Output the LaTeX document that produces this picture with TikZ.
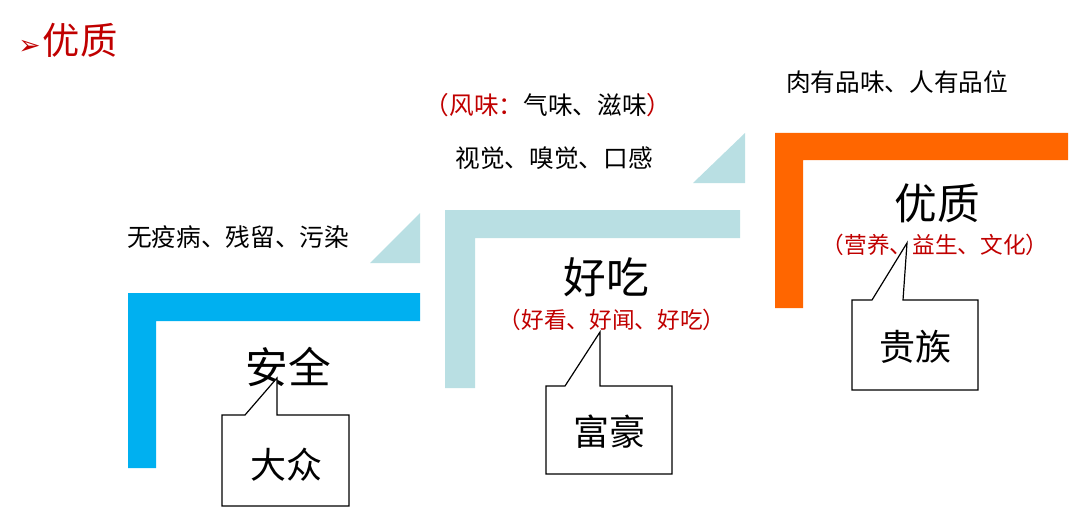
\documentclass[tikz,border=0pt]{standalone}
\usepackage{fontspec}
\setmainfont{Noto Sans CJK SC}
\newfontfamily\dvs{DejaVu Sans}
\definecolor{cblue}{HTML}{00B0F0}
\definecolor{clight}{HTML}{B9DFE3}
\definecolor{corange}{HTML}{FF6600}
\definecolor{cred}{HTML}{C00000}
\begin{document}
\begin{tikzpicture}[x=0.75pt,y=-0.75pt,
  txt/.style={inner sep=0pt,font=\fontsize{18.5}{20}\selectfont},
  big/.style={inner sep=0pt,font=\fontsize{32}{36}\selectfont},
  cal/.style={inner sep=0pt,font=\fontsize{27}{30}\selectfont},
  sub/.style={inner sep=0pt,text=cred,font=\fontsize{17}{20}\selectfont},
  callout/.style={draw=black,line width=0.9pt,fill=white}]
\useasboundingbox (0,0) rectangle (1080,524);
% L shapes
\fill[cblue] (128,293) -- (420,293) -- (420,321) -- (156,321) -- (156,468) -- (128,468) -- cycle;
\fill[clight] (445,210) -- (740,210) -- (740,238) -- (475,238) -- (475,388) -- (445,388) -- cycle;
\fill[corange] (775,133) -- (1068,133) -- (1068,160) -- (803,160) -- (803,308) -- (775,308) -- cycle;
\fill[clight] (370,263) -- (420,213) -- (420,263) -- cycle;
\fill[clight] (693,183) -- (745,133) -- (745,183) -- cycle;
% title
\node[anchor=west,inner sep=0pt,text=cred] (title) at (18,40) {{\dvs\fontsize{20}{24}\selectfont ➢}\,\fontsize{28}{32}\selectfont 优质};
% texts
\node[txt] (t1) at (897,82) {肉有品味、人有品位};
\node[txt] (t2) at (548,105) {\textcolor{cred}{（风味：}气味、滋味\textcolor{cred}{）}};
\node[txt] (t3) at (554,158) {视觉、嗅觉、口感};
\node[txt] (t4) at (238,237) {无疫病、残留、污染};
\node[big] (anquan) at (288,367) {安全};
\node[big] (haochi) at (606,277) {好吃};
\node[sub] (s2) at (612,320) {（好看、好闻、好吃）};
\node[big] (youzhi) at (937,203) {优质};
\node[sub] (s3) at (935,245) {（营养、益生、文化）};
% callouts
\draw[callout] (222,415) -- (245,415) -- (277,378) -- (277,415) -- (349,415) -- (349,506) -- (222,506) -- cycle;
\node[cal] (dz) at (286,465) {大众};
\draw[callout] (546,386) -- (565,386) -- (600,332) -- (600,386) -- (672,386) -- (672,474) -- (546,474) -- cycle;
\node[cal] (fh) at (609,432) {富豪};
\draw[callout] (852,300) -- (872,300) -- (907,243) -- (903,300) -- (978,300) -- (978,390) -- (852,390) -- cycle;
\node[cal] (gz) at (915,347) {贵族};
\end{tikzpicture}
\end{document}
